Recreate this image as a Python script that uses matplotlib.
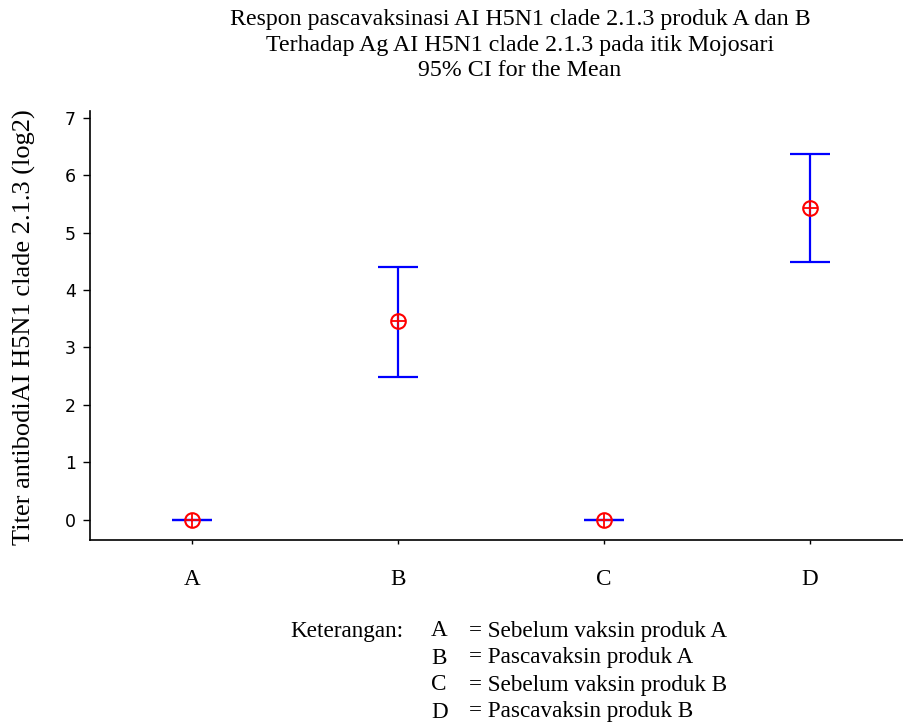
import matplotlib
matplotlib.use("Agg")
import matplotlib.pyplot as plt
import numpy as np

categories = ["A", "B", "C", "D"]
means = [0.0, 3.46, 0.0, 5.43]
ci_lower = [0.0, 2.48, 0.0, 4.49]
ci_upper = [0.0, 4.40, 0.0, 6.37]
yticks = [0, 1, 2, 3, 4, 5, 6, 7]
title_lines = ["Respon pascavaksinasi AI H5N1 clade 2.1.3 produk A dan B",
               "Terhadap Ag AI H5N1 clade 2.1.3 pada itik Mojosari",
               "95% CI for the Mean"]
ylabel = "Titer antibodiAI H5N1 clade 2.1.3 (log2)"
legend_rows = [("A", "= Sebelum vaksin produk A"),
               ("B", "= Pascavaksin produk A"),
               ("C", "= Sebelum vaksin produk B"),
               ("D", "= Pascavaksin produk B")]

serif = ["Liberation Serif", "DejaVu Serif"]
FS = 16.7

fig = plt.figure(figsize=(9.04, 7.26), dpi=100)
ax = fig.add_axes([90/904, (726-540.3)/726, (904-90)/904, (540.3-111)/726])

x = np.arange(1, len(categories) + 1)
m = np.array(means)
yerr = np.vstack([m - np.array(ci_lower), np.array(ci_upper) - m])
ax.errorbar(x, m, yerr=yerr, fmt="none", ecolor="#0000ff", elinewidth=1.6,
            capsize=14.5, capthick=1.6, zorder=2)
ax.plot(x, m, linestyle="none", marker="o", ms=10.5, mfc="none", mec="#ff0000",
        mew=1.5, zorder=3)
ax.plot(x, m, linestyle="none", marker="+", ms=10.5, mec="#ff0000", mew=1.3, zorder=3)

ax.set_xlim(0.505, 4.456)
ax.set_ylim(-0.359, 7.117)
ax.set_yticks(yticks)
ax.set_xticks(x)
ax.set_xticklabels(categories, fontfamily=serif, fontsize=FS)
ax.tick_params(axis="y", labelsize=12.5, length=5, width=1, pad=5)
ax.tick_params(axis="x", length=3, width=1, pad=18)
for lab in ax.get_yticklabels():
    lab.set_fontfamily("DejaVu Sans")
for s in ["top", "right"]:
    ax.spines[s].set_visible(False)
for s in ["left", "bottom"]:
    ax.spines[s].set_linewidth(1.2)

fig.text(24/904, 1 - 327/726, ylabel, rotation=90, ha="center", va="center",
         fontfamily=serif, fontsize=19)

for i, line in enumerate(title_lines):
    fig.text(520/904, 1 - (20 + 25.5*i)/726, line, ha="center", va="center",
             fontfamily=serif, fontsize=17.2)

fig.text(290/904, 1 - 631/726, "Keterangan:", ha="left", va="center",
         fontfamily=serif, fontsize=FS)
for i, (k, desc) in enumerate(legend_rows):
    yy = 1 - (631 + 27*i)/726
    fig.text(431/904, yy, k, ha="left", va="center", fontfamily=serif, fontsize=FS)
    fig.text(469/904, yy, desc, ha="left", va="center", fontfamily=serif, fontsize=FS)

fig.savefig("out.png", dpi=100)
